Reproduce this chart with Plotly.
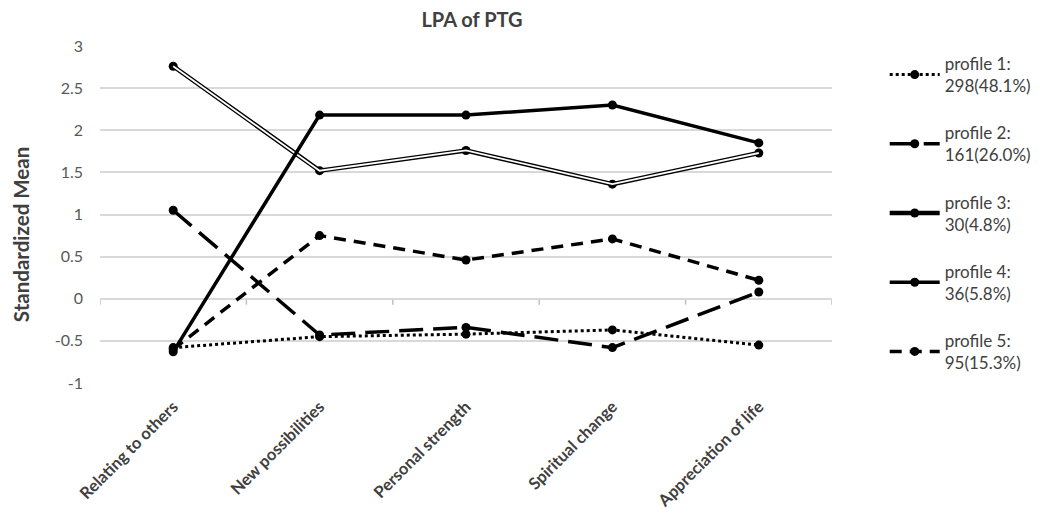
import plotly.graph_objects as go

categories = ["Relating to others", "New possibilities", "Personal strength", "Spiritual change", "Appreciation of life"]
profile_names = ["profile 1:<br>298(48.1%)", "profile 2:<br>161(26.0%)", "profile 3:<br>30(4.8%)",
                 "profile 4:<br>36(5.8%)", "profile 5:<br>95(15.3%)"]
p1 = [-0.58, -0.45, -0.42, -0.37, -0.55]
p2 = [1.05, -0.43, -0.34, -0.58, 0.08]
p3 = [2.76, 1.52, 1.76, 1.36, 1.73]
p4 = [-0.63, 2.18, 2.18, 2.30, 1.85]
p5 = [-0.60, 0.75, 0.46, 0.71, 0.22]
y_ticks = [-1, -0.5, 0, 0.5, 1, 1.5, 2, 2.5, 3]

FONT = "Lato, 'Open Sans', sans-serif"
fig = go.Figure()
mk = dict(symbol="circle", size=9, color="black")

fig.add_trace(go.Scatter(x=categories, y=p1, name=profile_names[0], mode="lines+markers",
                         line=dict(color="black", width=3, dash="dot"), marker=mk, legendgroup="1"))
fig.add_trace(go.Scatter(x=categories, y=p2, name=profile_names[1], mode="lines+markers",
                         line=dict(color="black", width=3.5, dash="24px,10px"), marker=mk, legendgroup="2"))
fig.add_trace(go.Scatter(x=categories, y=p3, name=profile_names[2], mode="lines+markers",
                         line=dict(color="black", width=4.5), marker=mk, legendgroup="3"))
fig.add_trace(go.Scatter(x=categories, y=p3, name=profile_names[2], mode="lines",
                         line=dict(color="white", width=1.8), showlegend=False, legendgroup="3",
                         hoverinfo="skip"))
fig.add_trace(go.Scatter(x=categories, y=p4, name=profile_names[3], mode="lines+markers",
                         line=dict(color="black", width=3.5), marker=mk, legendgroup="4"))
fig.add_trace(go.Scatter(x=categories, y=p5, name=profile_names[4], mode="lines+markers",
                         line=dict(color="black", width=3.5, dash="12px,8px"), marker=mk, legendgroup="5"))

# x-axis line at y=0 with boundary tick marks (Excel style)
fig.add_shape(type="line", xref="paper", yref="y", x0=0, x1=1, y0=0, y1=0,
              line=dict(color="#bfbfbf", width=1.5), layer="below")
for i in range(len(categories) + 1):
    fig.add_shape(type="line", xref="x", yref="y", x0=i - 0.5, x1=i - 0.5, y0=0, y1=-0.07,
                  line=dict(color="#bfbfbf", width=1.5), layer="below")

fig.add_annotation(text="<b>Standardized Mean</b>", textangle=-90, xref="paper", yref="paper",
                   x=(11 - 92) / 745, y=0.44, xanchor="center", yanchor="middle", showarrow=False,
                   font=dict(size=20.5, color="#404040", family=FONT))

# page body has an 8px margin: shift figure content up/left by 8px
fig.update_layout(
    width=1040, height=513,
    margin=dict(l=92, r=203, t=38, b=138),
    plot_bgcolor="white", paper_bgcolor="white",
    font=dict(family=FONT, color="#595959", size=14),
    title=dict(text="<b>LPA of PTG</b>", x=464 / 1040, xanchor="center", y=1 - 12 / 513, yanchor="middle",
               font=dict(size=20, color="#404040", family=FONT)),
    showlegend=True,
    legend=dict(x=1.072, xanchor="left", y=1.0, yanchor="top", traceorder="grouped",
                tracegroupgap=22, itemwidth=50, maxheight=470,
                font=dict(size=17, color="#404040", family=FONT),
                bgcolor="rgba(0,0,0,0)"),
    xaxis=dict(range=[-0.5, 4.5], showgrid=False, showline=False, ticks="", tickangle=-45,
               tickfont=dict(size=16.5, color="#404040", family=FONT), zeroline=False,
               tickprefix="<b>", ticksuffix="</b>", automargin=False, ticklabelstandoff=10),
    yaxis=dict(range=[-1, 3], tickvals=y_ticks, ticktext=[str(v) for v in y_ticks],
               showgrid=True, gridcolor="#d9d9d9", gridwidth=1.5, zeroline=False, showline=False,
               ticks="", tickfont=dict(size=16, color="#595959", family=FONT), automargin=False,
               ticklabelstandoff=16),
)

fig.write_html("out.html")
